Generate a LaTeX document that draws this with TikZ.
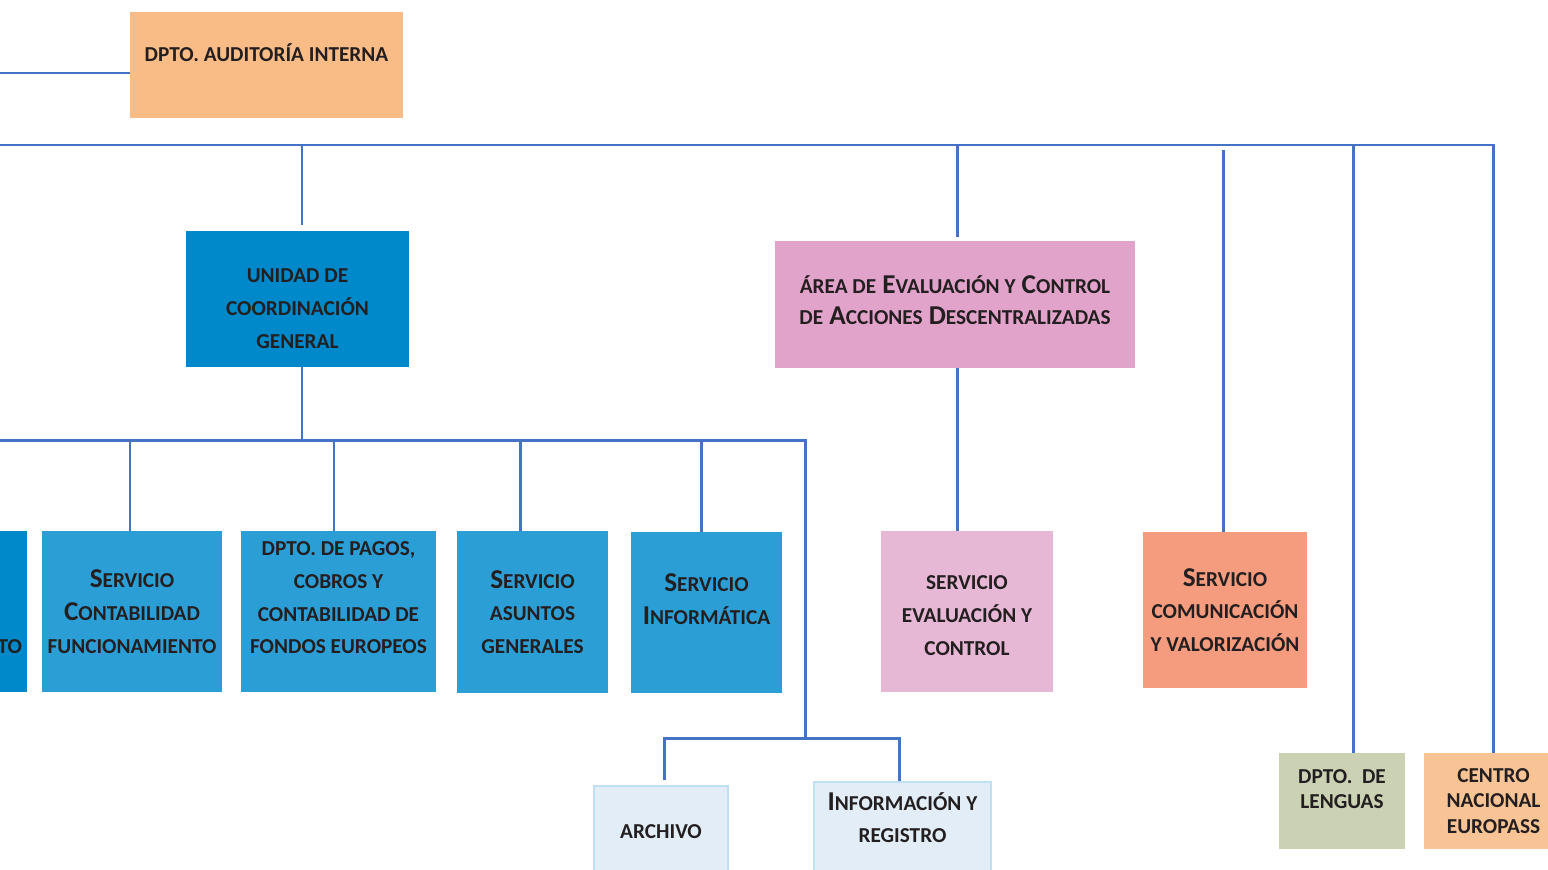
\documentclass[tikz,border=0pt]{standalone}
\usepackage{fontspec}
\setmainfont{Carlito}
\usetikzlibrary{positioning}
\definecolor{tinta}{HTML}{231F20}
\definecolor{linea}{HTML}{4472C4}
\definecolor{naranja}{HTML}{F9BC86}
\definecolor{azulosc}{HTML}{0089CA}
\definecolor{azul}{HTML}{2C9ED6}
\definecolor{rosa}{HTML}{E1A3CA}
\definecolor{rosaclaro}{HTML}{E6B8D6}
\definecolor{salmon}{HTML}{F59B7E}
\definecolor{celeste}{HTML}{E2EDF7}
\definecolor{borde}{HTML}{BFE0F2}
\definecolor{oliva}{HTML}{CBD2B3}
\definecolor{melocoton}{HTML}{F8C495}
\newcommand{\pq}[1]{{\fontsize{12.1}{14}\selectfont #1}}
\begin{document}
\begin{tikzpicture}[x=0.02cm,y=-0.02cm,
  caja/.style={rectangle, align=center, inner sep=2pt, text=tinta,
    font=\bfseries\fontsize{15.5}{18.7}\selectfont},
  apretada/.style={font=\bfseries\fontsize{15.5}{14.7}\selectfont},
  conector/.style={draw=linea, line width=1.7pt}]

\useasboundingbox (0,0) rectangle (1548,869);

\node[caja, fill=naranja, minimum width=5.46cm, minimum height=2.12cm] (auditoria) at (266.5,65) {\pq{DPTO. AUDITORÍA INTERNA}\\[-4pt]\mbox{}};
\node[caja, fill=azulosc, minimum width=4.46cm, minimum height=2.72cm] (unidad) at (297.5,299) {\mbox{}\\\pq{UNIDAD DE}\\\pq{COORDINACIÓN}\\\pq{GENERAL}};
\node[caja, fill=rosa, minimum width=7.2cm, minimum height=2.54cm] (area) at (955,304.5) {\pq{ÁREA DE} E\pq{VALUACIÓN Y} C\pq{ONTROL}\\[-1pt]\pq{DE} A\pq{CCIONES} D\pq{ESCENTRALIZADAS}\\[-14pt]\mbox{}};

\node[caja, fill=azulosc, minimum width=2.54cm, minimum height=3.22cm, inner xsep=0.1cm, text width=2.34cm, align=right] (presupuesto) at (-36.5,611.5) {\mbox{}\\\mbox{}\\[10pt]\pq{TO}};
\node[caja, fill=azul, minimum width=3.6cm, minimum height=3.22cm] (contabilidad) at (132,611.5) {S\pq{ERVICIO}\\C\pq{ONTABILIDAD}\\\pq{FUNCIONAMIENTO}};
\node[caja, fill=azul, minimum width=3.9cm, minimum height=3.22cm] (pagos) at (338.5,611.5) {\pq{DPTO. DE PAGOS,}\\\pq{COBROS Y}\\\pq{CONTABILIDAD DE}\\\pq{FONDOS EUROPEOS}\\[-3pt]\mbox{}};
\node[caja, fill=azul, minimum width=3.02cm, minimum height=3.24cm] (asuntos) at (532.5,612) {S\pq{ERVICIO}\\\pq{ASUNTOS}\\\pq{GENERALES}};
\node[caja, fill=azul, minimum width=3.02cm, minimum height=3.22cm] (informatica) at (706.5,612.5) {S\pq{ERVICIO}\\I\pq{NFORMÁTICA}\\[-3pt]\mbox{}};
\node[caja, fill=rosaclaro, minimum width=3.44cm, minimum height=3.22cm] (evaluacion) at (967,611.5) {\mbox{}\\[-6pt]\pq{SERVICIO}\\\pq{EVALUACIÓN Y}\\\pq{CONTROL}};
\node[caja, fill=salmon, minimum width=3.28cm, minimum height=3.12cm] (comunicacion) at (1225,610) {S\pq{ERVICIO}\\\pq{COMUNICACIÓN}\\\pq{Y VALORIZACIÓN}};

\node[caja, fill=celeste, draw=borde, line width=1.2pt, minimum width=2.68cm, minimum height=1.84cm] (archivo) at (661,832) {\pq{ARCHIVO}};
\node[caja, fill=celeste, draw=borde, line width=1.2pt, minimum width=3.54cm, minimum height=2.08cm] (informacion) at (902.5,834) {I\pq{NFORMACIÓN Y}\\\pq{REGISTRO}\\\mbox{}};

\node[caja, apretada, fill=oliva, minimum width=2.52cm, minimum height=1.92cm] (lenguas) at (1342,801) {\pq{DPTO.~ DE}\\\pq{LENGUAS}\\[-1pt]\mbox{}};
\node[caja, apretada, fill=melocoton, minimum width=2.78cm, minimum height=1.92cm] (centro) at (1493.5,801) {\pq{CENTRO}\\\pq{NACIONAL}\\\pq{EUROPASS}};

\coordinate (entrada) at (0,73);
\coordinate (bus1) at (0,145);
\coordinate (bus2) at (0,440);
\coordinate (bajada) at (805,738);

\draw[conector] (entrada) -- (entrada -| auditoria.west);
\draw[conector] (bus1) -| (centro.north);
\draw[conector] ([xshift=0.09cm]unidad.north |- bus1) -- ([xshift=0.09cm,yshift=0.12cm]unidad.north);
\draw[conector] ([xshift=0.04cm]area.north |- bus1) -- ([xshift=0.04cm,yshift=0.08cm]area.north);
\draw[conector] ([xshift=-0.04cm,yshift=-0.1cm]comunicacion.north |- bus1) -- ([xshift=-0.04cm]comunicacion.north);
\draw[conector] ([xshift=0.22cm]lenguas.north |- bus1) -- ([xshift=0.22cm]lenguas.north);

\draw[conector] ([xshift=0.04cm]area.south) -- ([xshift=0.04cm]area.south |- evaluacion.north);

\draw[conector] ([xshift=0.09cm]unidad.south) -- ([xshift=0.09cm]unidad.south |- bus2);
\draw[conector] (bus2) -| (bajada);
\foreach \n/\d in {contabilidad/-0.04, pagos/-0.09, asuntos/-0.25, informatica/-0.11}
  \draw[conector] ([xshift=\d cm]\n.north |- bus2) -- ([xshift=\d cm]\n.north);

\draw[conector] ([xshift=0.06cm,yshift=0.1cm]archivo.north) |- ([xshift=-0.07cm]informacion.north |- bajada) -- ([xshift=-0.07cm]informacion.north);
\end{tikzpicture}
\end{document}
